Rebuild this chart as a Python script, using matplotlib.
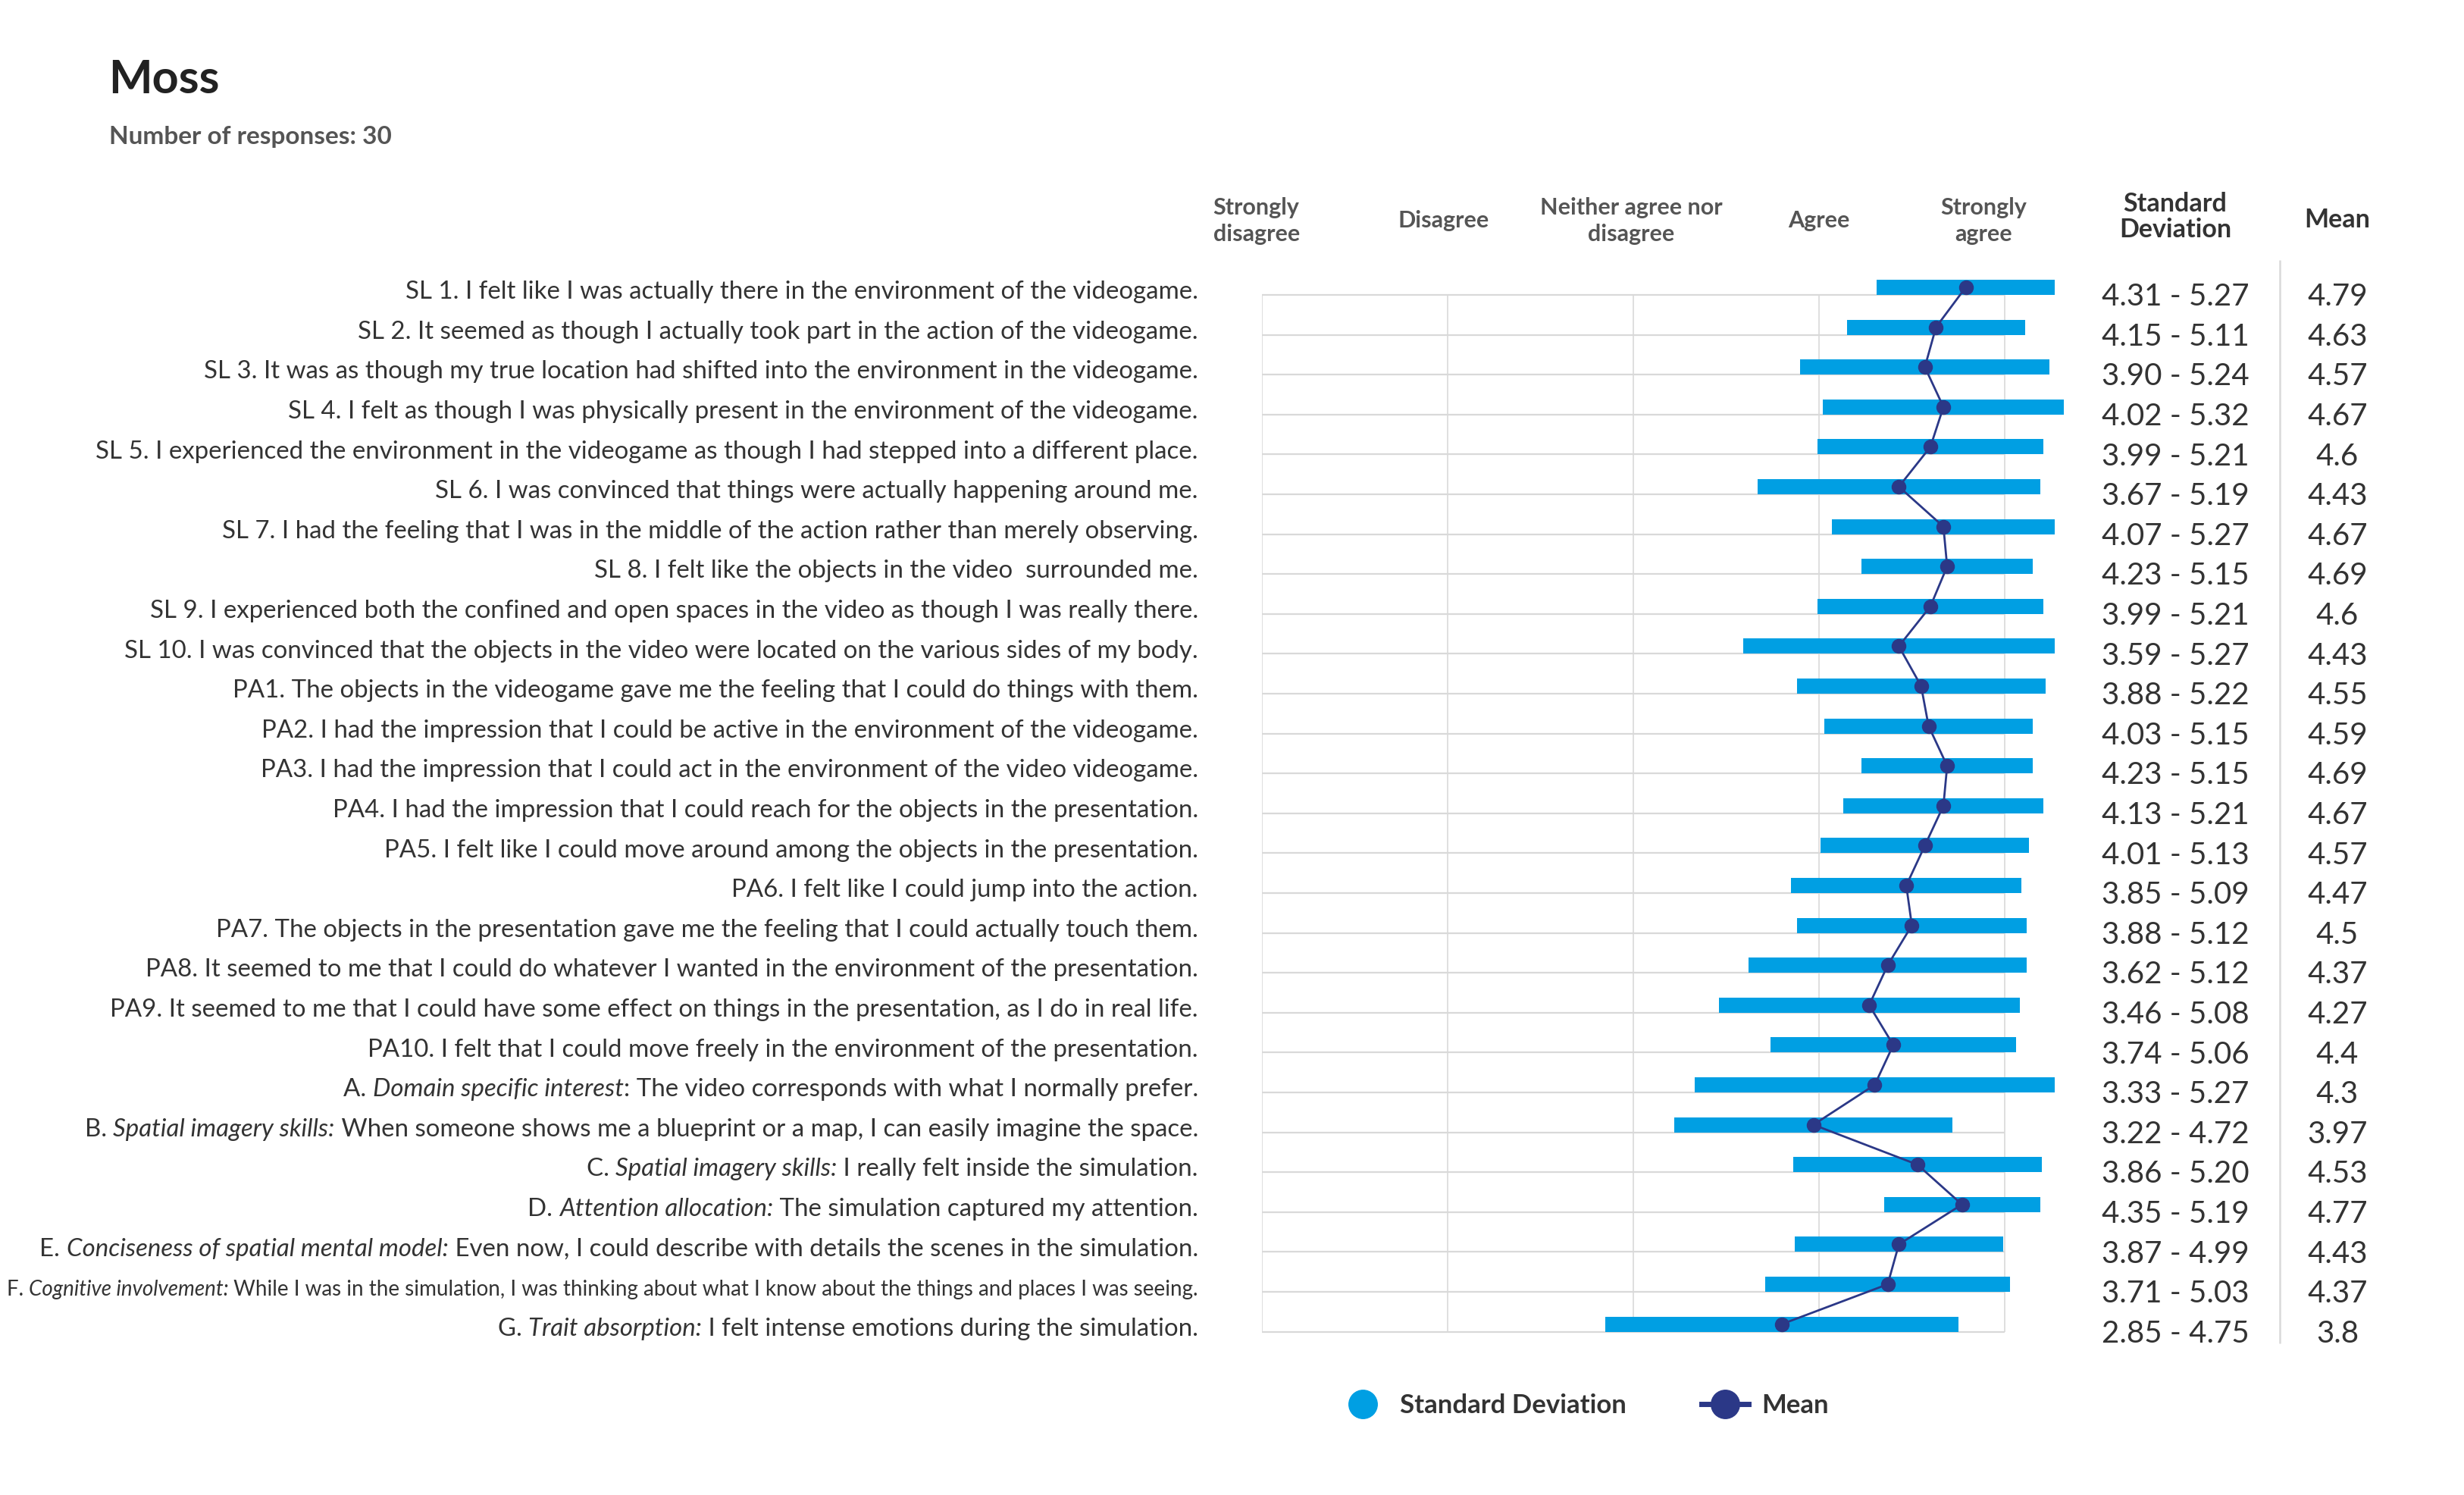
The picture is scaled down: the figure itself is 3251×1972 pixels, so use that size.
import numpy as np
import matplotlib
matplotlib.use("Agg")
import matplotlib.pyplot as plt
from matplotlib.lines import Line2D

plt.rcParams['font.family'] = ['Lato', 'DejaVu Sans']

# labels as (text, italic) pieces
labels = [
    [("SL 1. I felt like I was actually there in the environment of the videogame.", False)],
    [("SL 2. It seemed as though I actually took part in the action of the videogame.", False)],
    [("SL 3. It was as though my true location had shifted into the environment in the videogame.", False)],
    [("SL 4. I felt as though I was physically present in the environment of the videogame.", False)],
    [("SL 5. I experienced the environment in the videogame as though I had stepped into a different place.", False)],
    [("SL 6. I was convinced that things were actually happening around me.", False)],
    [("SL 7. I had the feeling that I was in the middle of the action rather than merely observing.", False)],
    [("SL 8. I felt like the objects in the video  surrounded me.", False)],
    [("SL 9. I experienced both the confined and open spaces in the video as though I was really there.", False)],
    [("SL 10. I was convinced that the objects in the video were located on the various sides of my body.", False)],
    [("PA1. The objects in the videogame gave me the feeling that I could do things with them.", False)],
    [("PA2. I had the impression that I could be active in the environment of the videogame.", False)],
    [("PA3. I had the impression that I could act in the environment of the video videogame.", False)],
    [("PA4. I had the impression that I could reach for the objects in the presentation.", False)],
    [("PA5. I felt like I could move around among the objects in the presentation.", False)],
    [("PA6. I felt like I could jump into the action.", False)],
    [("PA7. The objects in the presentation gave me the feeling that I could actually touch them.", False)],
    [("PA8. It seemed to me that I could do whatever I wanted in the environment of the presentation.", False)],
    [("PA9. It seemed to me that I could have some effect on things in the presentation, as I do in real life.", False)],
    [("PA10. I felt that I could move freely in the environment of the presentation.", False)],
    [("A. ", False), ("Domain specific interest", True), (": The video corresponds with what I normally prefer.", False)],
    [("B. ", False), ("Spatial imagery skills:", True), (" When someone shows me a blueprint or a map, I can easily imagine the space.", False)],
    [("C. ", False), ("Spatial imagery skills:", True), (" I really felt inside the simulation.", False)],
    [("D. ", False), ("Attention allocation:", True), (" The simulation captured my attention.", False)],
    [("E. ", False), ("Conciseness of spatial mental model:", True), (" Even now, I could describe with details the scenes in the simulation.", False)],
    [("F. ", False), ("Cognitive involvement:", True), (" While I was in the simulation, I was thinking about what I know about the things and places I was seeing.", False)],
    [("G. ", False), ("Trait absorption:", True), (" I felt intense emotions during the simulation.", False)],
]

sd_low = [4.31, 4.15, 3.90, 4.02, 3.99, 3.67, 4.07, 4.23, 3.99, 3.59,
          3.88, 4.03, 4.23, 4.13, 4.01, 3.85, 3.88, 3.62, 3.46, 3.74,
          3.33, 3.22, 3.86, 4.35, 3.87, 3.71, 2.85]
sd_high = [5.27, 5.11, 5.24, 5.32, 5.21, 5.19, 5.27, 5.15, 5.21, 5.27,
           5.22, 5.15, 5.15, 5.21, 5.13, 5.09, 5.12, 5.12, 5.08, 5.06,
           5.27, 4.72, 5.20, 5.19, 4.99, 5.03, 4.75]
means = [4.79, 4.63, 4.57, 4.67, 4.6, 4.43, 4.67, 4.69, 4.6, 4.43,
         4.55, 4.59, 4.69, 4.67, 4.57, 4.47, 4.5, 4.37, 4.27, 4.4,
         4.3, 3.97, 4.53, 4.77, 4.43, 4.37, 3.8]
mean_text = ["4.79", "4.63", "4.57", "4.67", "4.6", "4.43", "4.67", "4.69", "4.6", "4.43",
             "4.55", "4.59", "4.69", "4.67", "4.57", "4.47", "4.5", "4.37", "4.27", "4.4",
             "4.3", "3.97", "4.53", "4.77", "4.43", "4.37", "3.8"]

scale_labels = ["Strongly\ndisagree", "Disagree", "Neither agree nor\ndisagree", "Agree", "Strongly\nagree"]
scale_pos = [0.97, 1.98, 2.99, 4.0, 4.886]

blue = '#009FE3'
navy = '#2B3887'
grid_c = '#D9D9D9'
txt = '#333333'

fig = plt.figure(figsize=(32.51, 19.72), dpi=100)
ax = fig.add_axes([0.51215, 0.10122, 0.33159, 0.72152])
ax.set_xlim(1, 5.4)
ax.set_ylim(26.3, -0.75)
ax.axis('off')

n = len(means)
rows = np.arange(n)

# grid
ax.hlines(rows, 1, 5, color=grid_c, lw=1.6, zorder=1)
ax.vlines([1, 2, 3, 4, 5], 0, n - 1, color=grid_c, lw=1.2, zorder=1)

ax.barh(rows - 0.19, np.array(sd_high) - np.array(sd_low), left=sd_low, height=0.38,
        color=blue, zorder=2, clip_on=False)
ax.plot(means, rows - 0.19, color=navy, lw=2, marker='o', markersize=13, zorder=3, clip_on=False)

# column headers
for lab, xp in zip(scale_labels, scale_pos):
    ax.text(xp, -1.86, lab, ha='center', va='center', fontsize=22, color='#555555',
            fontweight='bold', linespacing=1.3)
ax.text(5.918, -1.96, "Standard\nDeviation", ha='center', va='center', fontsize=24.5,
        fontweight='bold', color=txt, linespacing=1.05)
ax.text(6.792, -1.88, "Mean", ha='center', va='center', fontsize=24.5, fontweight='bold', color=txt)
ax.vlines(6.482, -0.875, 26.3, color=grid_c, lw=1.8, clip_on=False)

# numbers
for i in range(n):
    ax.text(5.918, i + 0.27, "%.2f - %.2f" % (sd_low[i], sd_high[i]), ha='center', va='baseline',
            fontsize=29, color=txt)
    ax.text(6.792, i + 0.27, mean_text[i], ha='center', va='baseline', fontsize=29, color=txt)

# question labels, drawn right to left
fig.canvas.draw()
renderer = fig.canvas.get_renderer()
inv = ax.transData.inverted()
for i, parts in enumerate(labels):
    fs = 20 if i == 25 else 23.8
    xr = 0.657
    for s, it in reversed(parts):
        t = ax.text(xr, i + 0.1, s, ha='right', va='baseline', fontsize=fs, color=txt,
                    style='italic' if it else 'normal')
        bb = t.get_window_extent(renderer)
        xr = inv.transform((bb.x0, bb.y0))[0]

fig.text(0.0440, 0.9376, "Moss", fontsize=44, fontweight='bold', color='#222222', va='baseline')
fig.text(0.0442, 0.9037, "Number of responses: 30", fontsize=24, fontweight='bold',
         color='#555555', va='baseline')

handles = [Line2D([], [], color=blue, marker='o', linestyle='none', markersize=27),
           Line2D([], [], color=navy, marker='o', lw=5, markersize=27)]
leg = fig.legend(handles, ["Standard Deviation", "Mean"], loc='center',
                 bbox_to_anchor=(0.6429, 0.0598), ncol=2, frameon=False,
                 prop={'size': 25, 'weight': 'bold'}, handlelength=1.8,
                 handletextpad=0.5, columnspacing=2.85)
for t in leg.get_texts():
    t.set_color(txt)

fig.savefig("out.png", dpi=100)
